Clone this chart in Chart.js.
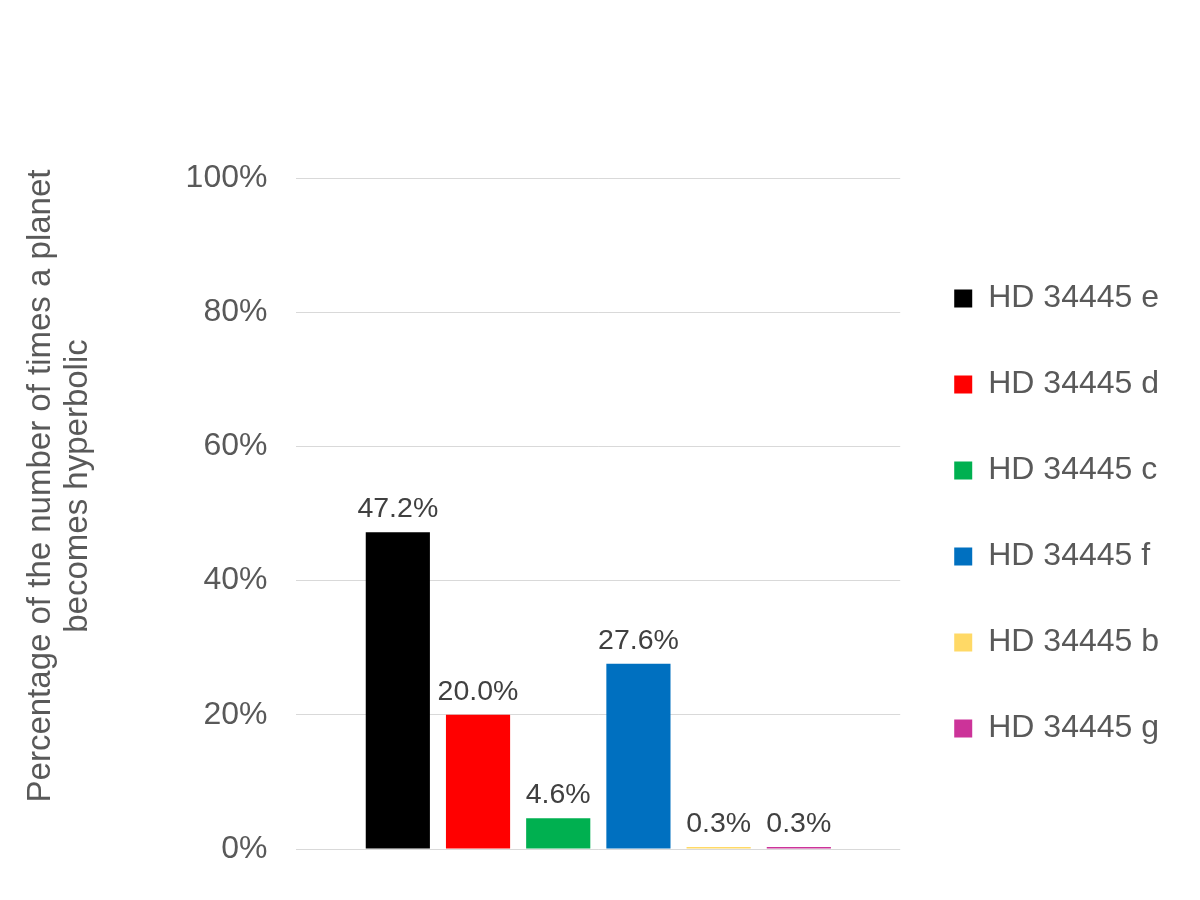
<!DOCTYPE html>
<html>
<head>
<meta charset="utf-8">
<script src="https://cdn.jsdelivr.net/npm/chart.js@4/dist/chart.umd.min.js"></script>
<style>
html,body{margin:0;padding:0;background:#fff;}
canvas{display:block;}
</style>
</head>
<body>
<canvas id="c" width="1200" height="900"></canvas>
<script>
const categories = [''];
const seriesNames = ['HD 34445 e','HD 34445 d','HD 34445 c','HD 34445 f','HD 34445 b','HD 34445 g'];
const seriesValues = [0.472, 0.200, 0.046, 0.276, 0.003, 0.003];
const seriesLabels = ['47.2%','20.0%','4.6%','27.6%','0.3%','0.3%'];
const seriesColors = ['#000000','#FF0000','#00B050','#0070C0','#FFD966','#CC3399'];
const yTicks = [0, 0.2, 0.4, 0.6, 0.8, 1.0];
const yTitle = ['Percentage of the number of times a planet','becomes hyperbolic'];

const FONT = "'Liberation Sans', Arial, sans-serif";
const TITLE_LEAD = '\u00A0'.repeat(6);

const dataLabelPlugin = {
  id: 'dataLabels',
  afterDatasetsDraw(chart) {
    const ctx = chart.ctx;
    ctx.save();
    ctx.font = "28.5px " + FONT;
    ctx.fillStyle = '#404040';
    ctx.textAlign = 'center';
    ctx.textBaseline = 'alphabetic';
    chart.data.datasets.forEach((ds, i) => {
      const meta = chart.getDatasetMeta(i);
      meta.data.forEach((bar) => {
        ctx.fillText(seriesLabels[i], bar.x, bar.y - 15);
      });
    });
    ctx.restore();
  }
};

const datasets = seriesNames.map((name, i) => ({
  label: name,
  data: [seriesValues[i]],
  backgroundColor: seriesColors[i],
  borderWidth: 0
}));

new Chart(document.getElementById('c'), {
  type: 'bar',
  data: { labels: categories, datasets: datasets },
  plugins: [dataLabelPlugin],
  options: {
    responsive: false,
    animation: false,
    devicePixelRatio: 1,
    layout: { padding: { left: 23, right: 31, top: 178, bottom: 51 } },
    datasets: { bar: { categoryPercentage: 0.797, barPercentage: 0.8 } },
    plugins: {
      tooltip: { enabled: false },
      legend: {
        position: 'right',
        fullSize: false,
        labels: {
          font: { family: FONT, size: 32 },
          color: '#595959',
          boxWidth: 18,
          boxHeight: 18,
          padding: 54
        }
      }
    },
    scales: {
      x: { display: false },
      y: {
        min: 0,
        max: 1,
        afterBuildTicks: (scale) => { scale.ticks = yTicks.map(v => ({ value: v })); },
        ticks: {
          font: { family: FONT, size: 32 },
          color: '#595959',
          padding: 29,
          callback: (v) => Math.round(v * 100) + '%'
        },
        grid: { color: '#D9D9D9', lineWidth: 1, drawTicks: false },
        border: { display: false },
        title: {
          display: true,
          text: yTitle.map(t => TITLE_LEAD + t),
          font: { family: FONT, size: 33, lineHeight: 1.1 },
          color: '#595959',
          padding: { top: 0, bottom: 61 }
        }
      }
    }
  }
});
</script>
</body>
</html>
